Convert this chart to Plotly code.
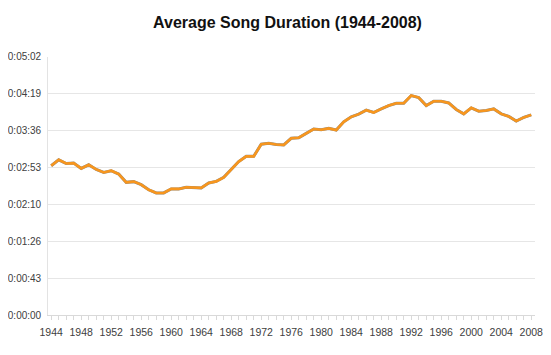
import plotly.graph_objects as go

years = list(range(1944, 2009))
# average duration in seconds
durations = [
    174.6, 181.5, 177.2, 177.7, 171.5, 175.7, 170.3, 166.8, 168.8, 164.9,
    155.2, 156.0, 152.5, 146.5, 142.8, 142.8, 147.5, 147.5, 149.4, 148.7,
    148.7, 154.5, 156.3, 161.0, 170.0, 179.5, 185.6, 185.6, 199.8, 200.9,
    199.4, 199.0, 206.7, 207.4, 212.5, 217.5, 216.7, 218.3, 216.4, 226.0,
    231.8, 235.0, 239.6, 236.9, 241.1, 245.0, 247.7, 247.7, 256.7, 254.3,
    245.0, 250.0, 250.0, 248.1, 240.4, 235.3, 242.3, 238.4, 239.2, 241.1,
    235.3, 232.3, 226.8, 231.1, 234.1,
]
y_tick_seconds = [0, 43.2, 86.4, 129.6, 172.8, 216.0, 259.2, 302.4]
x_label_years = list(range(1944, 2009, 4))


def fmt(sec):
    s = int(round(sec))
    return f"{s // 3600}:{(s % 3600) // 60:02d}:{s % 60:02d}"


y_tick_text = [fmt(v) for v in y_tick_seconds]
x_tick_text = [str(y) if y in x_label_years else "" for y in years]

# the page body adds an 8px margin, so the figure is sized/placed accordingly
W, H = 537, 340
ml, mr, mt, mb = 39, 10, 47, 33
pw = W - ml - mr
ph = H - mt - mb
dx = 1.2 / pw
dy = 1.5 / ph

fig = go.Figure()
# shadow on the main (visible) axes, shifted slightly right/down
fig.add_trace(go.Scatter(x=years, y=durations, mode="lines",
                         line=dict(color="#8a8a8a", width=3),
                         hoverinfo="skip", showlegend=False))
# main orange line on an invisible overlay axis pair
fig.add_trace(go.Scatter(x=years, y=durations, mode="lines",
                         line=dict(color="#F7961E", width=2.6),
                         xaxis="x2", yaxis="y2", showlegend=False))

xr = [1943.6, 2008.5]
yr = [0, 302.4]
xfont = dict(family="Liberation Sans, Arial, sans-serif", size=10.5, color="#404040")
yfont = dict(family="Liberation Sans, Arial, sans-serif", size=10, color="#404040")

fig.update_layout(
    width=W, height=H,
    margin=dict(l=ml, r=mr, t=mt, b=mb),
    paper_bgcolor="white", plot_bgcolor="white",
    title=dict(text="<b>Average Song Duration (1944-2008)</b>",
               x=279.5 / W, xanchor="center", y=1 - 14 / H, yanchor="middle",
               font=dict(family="Liberation Sans, Arial, sans-serif", size=16,
                         color="#111111")),
    xaxis=dict(domain=[dx, 1], range=xr, tickmode="array", tickvals=years,
               ticktext=x_tick_text, ticks="outside", ticklen=4,
               tickcolor="#d9d9d9", showline=True, linecolor="#d9d9d9",
               showgrid=False, zeroline=False, tickfont=xfont, tickangle=0,
               ticklabelstandoff=3, automargin=False),
    yaxis=dict(domain=[0, 1 - dy], range=yr, tickmode="array",
               tickvals=y_tick_seconds, ticktext=y_tick_text, ticks="",
               showline=True, linecolor="#e3e3e3", showgrid=True,
               gridcolor="#e6e6e6", gridwidth=1, zeroline=False,
               tickfont=yfont, ticklabelstandoff=4, automargin=False),
    xaxis2=dict(domain=[0, 1 - dx], range=xr, visible=False, overlaying="x"),
    yaxis2=dict(domain=[dy, 1], range=yr, visible=False, anchor="x2",
                overlaying="y"),
)
fig.write_html("out.html")
